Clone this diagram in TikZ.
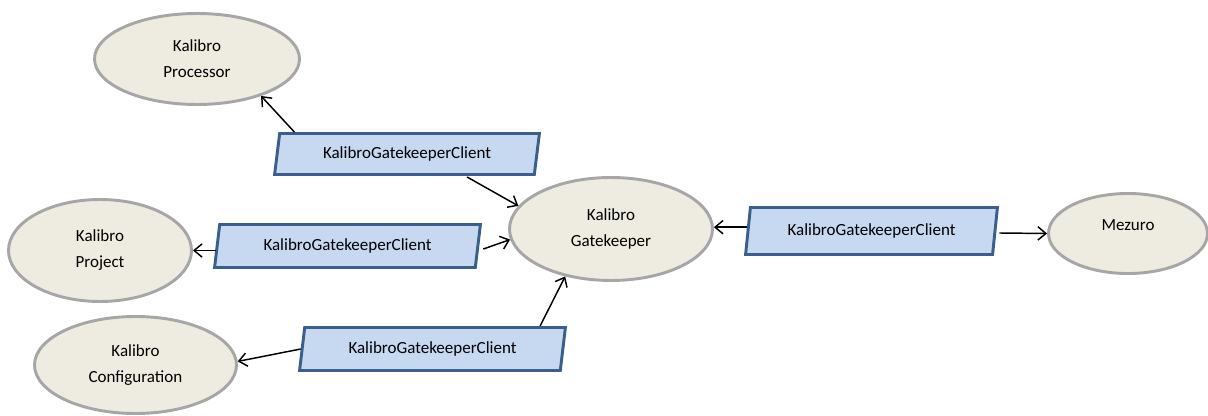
\documentclass[tikz,border=0pt]{standalone}
\usepackage{fontspec}
\setmainfont{Carlito}
\usepackage{xcolor}
\usetikzlibrary{shapes.geometric, arrows.meta, calc}

\definecolor{compfill}{HTML}{EEECE1}
\definecolor{compline}{HTML}{A6A6A6}
\definecolor{clientfill}{HTML}{C6D9F1}
\definecolor{clientline}{HTML}{3A5F8C}

\tikzset{
	comp/.style={ellipse, draw=compline, fill=compfill, line width=2.2pt, inner sep=0pt, align=center, font=\fontsize{12.75}{19.5}\selectfont},
	client/.style={trapezium, trapezium left angle=77, trapezium right angle=103, trapezium stretches=true, draw=clientline, fill=clientfill, line width=2.2pt, inner sep=0pt, font=\fontsize{12.75}{15}\selectfont},
	arr/.style={-{Straight Barb[length=6pt,width=10pt]}, line width=1.1pt}
}

\begin{document}
\begin{tikzpicture}[x=0.75pt, y=-0.75pt]
	\useasboundingbox (0,0) rectangle (1208,416);
	
	\node[comp, minimum width=153.75pt, minimum height=68.25pt] (proc) at (197,59) {Kalibro\\Processor};
	\node[comp, minimum width=137.25pt, minimum height=76.5pt] (proj) at (100,250.5) {Kalibro\\Project};
	\node[comp, minimum width=151.5pt, minimum height=72.75pt] (conf) at (135.5,365) {Kalibro\\Configuration};
	\node[comp, minimum width=152.25pt, minimum height=77.25pt] (gk) at (611,229) {Kalibro\\Gatekeeper};
	\node[comp, minimum width=119.25pt, minimum height=60pt] (mez) at (1128,233.5) {\raisebox{2.5pt}[0pt][0pt]{Mezuro}};
	
	\node[client, minimum width=198.75pt, minimum height=30.75pt] (c1) at (407,154) {KalibroGatekeeperClient};
	\node[client, minimum width=199.5pt, minimum height=32.25pt] (c2) at (347.5,246) {KalibroGatekeeperClient};
	\node[client, minimum width=199.5pt, minimum height=32.25pt] (c3) at (432.5,349) {KalibroGatekeeperClient};
	\node[client, minimum width=189pt, minimum height=35.25pt] (c4) at (871.5,231) {KalibroGatekeeperClient};
	
	% clients to the kalibro services
	\draw[arr] ($(c1.top left corner)+(16,0)$) -- (proc.-30);
	\draw[arr] (c2.west |- proj.east) -- (proj.east);
	\draw[arr] (c3.west) -- (conf.2);
	
	% clients to the gatekeeper
	\draw[arr] ($(c1.south)+(60,1)$) -- (gk.166);
	\draw[arr] ($(c2.east)+(4,3)$) -- (gk.-174.5);
	\draw[arr] ($(c3.top right corner)+(-27,0)$) -- (gk.-134);
	\draw[arr] (c4.west |- gk.1) -- (gk.1);
	\draw[arr] ($(c4.east)+(3,2)$) -- (mez.west);
\end{tikzpicture}
\end{document}
